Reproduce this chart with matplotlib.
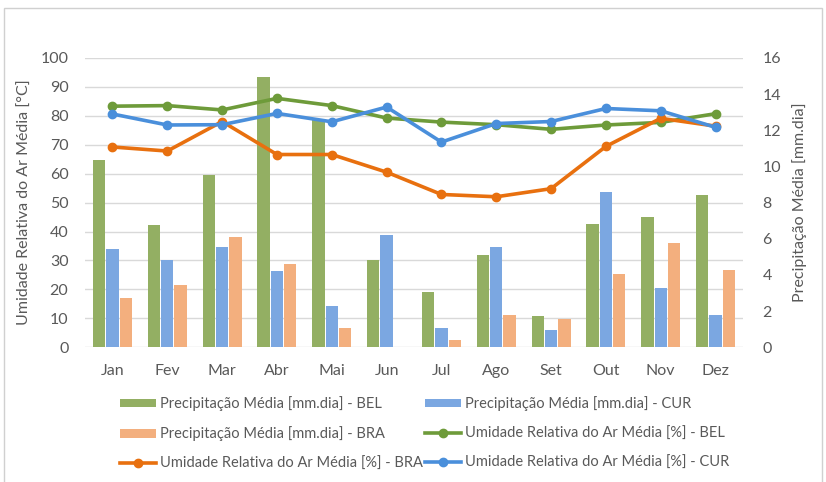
import matplotlib
matplotlib.use("Agg")
import matplotlib.pyplot as plt
import numpy as np
from matplotlib.patches import Rectangle

plt.rcParams['font.family'] = ['Lato', 'DejaVu Sans']

months = ['Jan', 'Fev', 'Mar', 'Abr', 'Mai', 'Jun', 'Jul', 'Ago', 'Set', 'Out', 'Nov', 'Dez']

# Precipitation (mm/day) - right axis
prec_bel = [10.35, 6.77, 9.55, 14.93, 12.56, 4.82, 3.04, 5.12, 1.71, 6.83, 7.18, 8.42]
prec_cur = [5.46, 4.82, 5.54, 4.24, 2.29, 6.21, 1.07, 5.54, 0.96, 8.56, 3.28, 1.80]
prec_bra = [2.70, 3.46, 6.11, 4.61, 1.07, 0.0, 0.41, 1.80, 1.57, 4.03, 5.78, 4.27]

# Relative humidity (%) - left axis
ur_bel = [83.3, 83.5, 82.0, 86.0, 83.5, 79.2, 77.8, 76.9, 75.3, 76.8, 77.7, 80.7]
ur_bra = [69.2, 67.8, 78.0, 66.6, 66.6, 60.5, 52.8, 52.0, 54.8, 69.4, 79.1, 76.4]
ur_cur = [80.6, 76.8, 76.9, 80.8, 77.9, 83.0, 70.9, 77.3, 78.0, 82.5, 81.7, 76.0]

left_ticks = list(range(0, 101, 10))
right_ticks = list(range(0, 17, 2))

txt = '#595959'
grid_c = '#d9d9d9'
c_bar_bel, c_bar_cur, c_bar_bra = '#93AF63', '#7BA7E1', '#F3AF7E'
c_ln_bel, c_ln_bra, c_ln_cur = '#6E9B3A', '#E8700F', '#4A8FDB'

fig = plt.figure(figsize=(8.26, 4.82), dpi=100)
fig.patches.append(Rectangle((0.005, -0.01), 0.99, 0.993, transform=fig.transFigure,
                             fill=False, edgecolor='#d0d0d0', lw=1.0))
ax = fig.add_axes([0.103, 0.2795, 0.7965, 0.6005])
ax2 = ax.twinx()
ax3 = ax.twinx()

x = np.arange(len(months))
w = 0.225
step = 0.243

# grid + left axis
ax.set_ylim(0, 100)
ax.set_yticks(left_ticks)
ax.grid(axis='y', color=grid_c, lw=1.0)
ax.set_axisbelow(True)
ax.set_xlim(-0.5, len(months) - 0.5)
ax.set_xticks(x)
ax.set_xticklabels(months)
for s in ax.spines.values():
    s.set_visible(False)
ax.tick_params(axis='both', length=0, colors=txt, labelsize=11.5)
ax.tick_params(axis='x', pad=12)
ax.tick_params(axis='y', pad=12)
ax.set_ylabel('Umidade Relativa do Ar Média [°C]', color=txt, fontsize=11.5, labelpad=6)

# bars on right axis
b1 = ax2.bar(x - step, prec_bel, w, color=c_bar_bel, label='Precipitação Média [mm.dia] - BEL')
b2 = ax2.bar(x, prec_cur, w, color=c_bar_cur, label='Precipitação Média [mm.dia] - CUR')
b3 = ax2.bar(x + step, prec_bra, w, color=c_bar_bra, label='Precipitação Média [mm.dia] - BRA')
ax2.set_ylim(0, 16)
ax2.set_yticks(right_ticks)
for s in ax2.spines.values():
    s.set_visible(False)
ax2.tick_params(axis='y', length=0, colors=txt, labelsize=11.5, pad=14)
ax2.set_ylabel('Precipitação Média [mm.dia]', color=txt, fontsize=11.5, labelpad=8)

# lines on left scale
l1, = ax3.plot(x, ur_bel, color=c_ln_bel, lw=2.6, marker='o', ms=6, label='Umidade Relativa do Ar Média [%] - BEL')
l2, = ax3.plot(x, ur_bra, color=c_ln_bra, lw=2.6, marker='o', ms=6, label='Umidade Relativa do Ar Média [%] - BRA')
l3, = ax3.plot(x, ur_cur, color=c_ln_cur, lw=2.6, marker='o', ms=6, label='Umidade Relativa do Ar Média [%] - CUR')
ax3.set_ylim(0, 100)
ax3.set_yticks([])
for s in ax3.spines.values():
    s.set_visible(False)

handles = [b1, b3, l2, b2, l1, l3]
labels = [h.get_label() for h in handles]
leg = fig.legend(handles, labels, ncol=2, loc='center', bbox_to_anchor=(0.514, 0.1006),
                 frameon=False, prop={'size': 10.5},
                 handlelength=2.45, handleheight=0.55,
                 columnspacing=0.2, labelspacing=1.05, handletextpad=0.27)
for t in leg.get_texts():
    t.set_color(txt)

fig.savefig('out.png', dpi=100)
